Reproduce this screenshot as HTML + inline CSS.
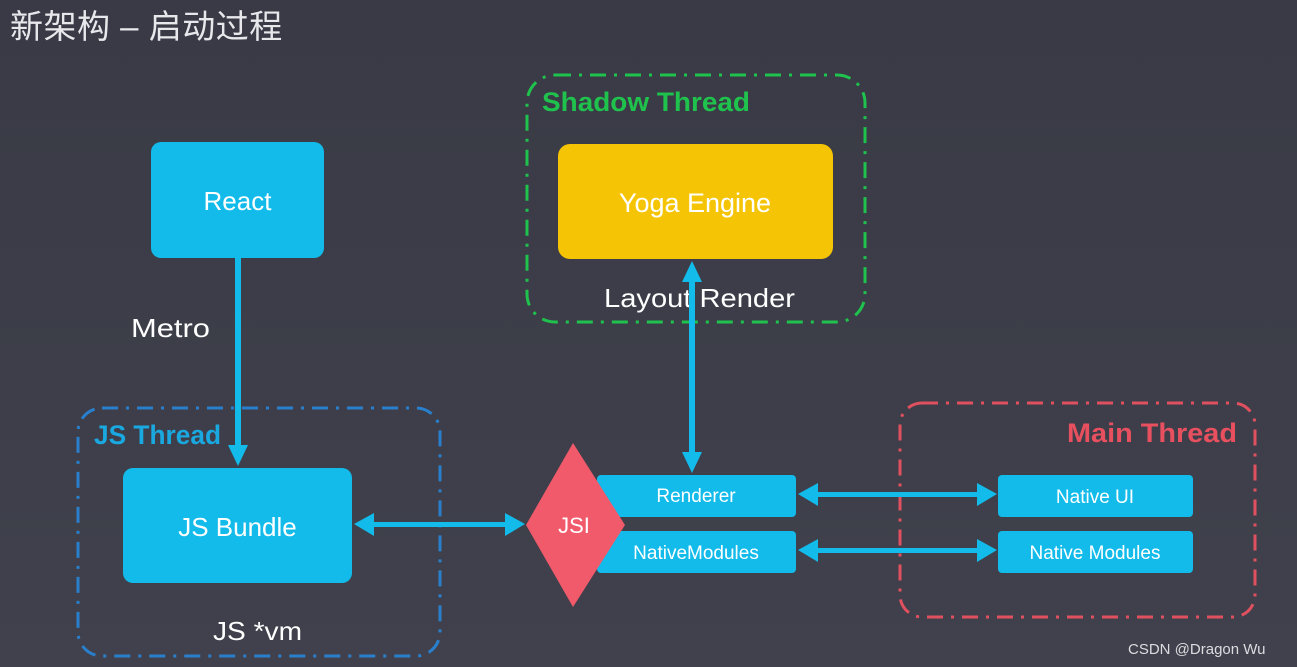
<!DOCTYPE html>
<html><head><meta charset="utf-8"><style>
html,body{margin:0;padding:0;background:#3e3f4b;}
svg{display:block}
text{font-family:"Liberation Sans","Noto Sans CJK SC",sans-serif;}
</style></head><body>
<svg width="1297" height="667" viewBox="0 0 1297 667" xmlns="http://www.w3.org/2000/svg">
<defs>
<linearGradient id="bg" x1="0" y1="0" x2="0" y2="1"><stop offset="0" stop-color="#393a45"/><stop offset="1" stop-color="#40414c"/></linearGradient>
</defs>
<rect width="1297" height="667" fill="url(#bg)"/>
<text x="10" y="38" font-size="33" fill="#e8e8ec" letter-spacing="0.5">新架构 – 启动过程</text>

<rect x="527" y="75" width="338" height="247" rx="28" fill="none" stroke="#1fc24c" stroke-width="3" stroke-dasharray="16 8 3 8"/>
<rect x="78" y="408" width="362" height="248" rx="24" fill="none" stroke="#2a7fcc" stroke-width="3" stroke-dasharray="16 8 3 8"/>
<rect x="900" y="403" width="355" height="214" rx="22" fill="none" stroke="#e0505f" stroke-width="3" stroke-dasharray="16 8 3 8"/>

<text x="542" y="111" font-size="27" font-weight="bold" fill="#1fc24c" textLength="208" lengthAdjust="spacingAndGlyphs">Shadow Thread</text>
<text x="94" y="444" font-size="27" font-weight="bold" fill="#1aa8e0" textLength="127" lengthAdjust="spacingAndGlyphs">JS Thread</text>
<text x="1067" y="442" font-size="27" font-weight="bold" fill="#e8505f" textLength="170" lengthAdjust="spacingAndGlyphs">Main Thread</text>

<rect x="151" y="142" width="173" height="116" rx="10" fill="#12bbea"/>
<text x="237.5" y="210" font-size="26" fill="#fff" text-anchor="middle">React</text>
<rect x="123" y="468" width="229" height="115" rx="10" fill="#12bbea"/>
<text x="237.5" y="536" font-size="26" fill="#fff" text-anchor="middle">JS Bundle</text>
<rect x="558" y="144" width="275" height="115" rx="12" fill="#f5c505"/>
<text x="695" y="212" font-size="27" fill="#fff" text-anchor="middle">Yoga Engine</text>

<rect x="597" y="475" width="199" height="42" rx="4" fill="#12bbea"/>
<text x="696" y="502" font-size="19" fill="#fff" text-anchor="middle">Renderer</text>
<rect x="597" y="531" width="199" height="42" rx="4" fill="#12bbea"/>
<text x="696" y="559" font-size="19" fill="#fff" text-anchor="middle">NativeModules</text>
<rect x="998" y="475" width="195" height="42" rx="4" fill="#12bbea"/>
<text x="1095" y="503" font-size="19" fill="#fff" text-anchor="middle">Native UI</text>
<rect x="998" y="531" width="195" height="42" rx="4" fill="#12bbea"/>
<text x="1095" y="559" font-size="19" fill="#fff" text-anchor="middle">Native Modules</text>

<polygon points="573,443 625,525 573,607 526,525" fill="#f05a6a"/>
<text x="574" y="533" font-size="22" fill="#fff" text-anchor="middle">JSI</text>

<text x="131" y="337" font-size="26" fill="#fff" textLength="79" lengthAdjust="spacingAndGlyphs">Metro</text>
<text x="604" y="307" font-size="26" fill="#fff" textLength="191" lengthAdjust="spacingAndGlyphs">Layout Render</text>
<text x="213" y="640" font-size="26" fill="#fff" textLength="89" lengthAdjust="spacingAndGlyphs">JS *vm</text>
<text x="1128" y="654" font-size="15" fill="#dcdce0">CSDN @Dragon    Wu</text>

<g fill="#12bbea" stroke="none">
<rect x="235" y="258" width="6" height="190"/>
<polygon points="228,445 248,445 238,466"/>
<rect x="689" y="280" width="6" height="175"/>
<polygon points="682,282 702,282 692,261"/>
<polygon points="682,452 702,452 692,473"/>
<rect x="372" y="522" width="135" height="5"/>
<polygon points="374,513 374,536 354,524"/>
<polygon points="505,513 505,536 525,524"/>
<rect x="815" y="492" width="165" height="5"/>
<polygon points="818,483 818,506 798,494"/>
<polygon points="977,483 977,506 997,494"/>
<rect x="815" y="548" width="165" height="5"/>
<polygon points="818,539 818,562 798,550"/>
<polygon points="977,539 977,562 997,550"/>
</g>
</svg>
</body></html>
